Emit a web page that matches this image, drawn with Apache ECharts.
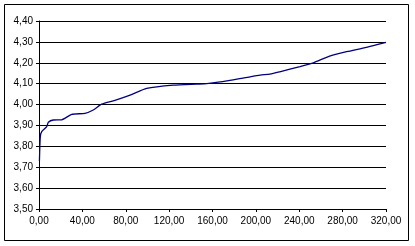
<!DOCTYPE html>
<html>
<head>
<meta charset="utf-8">
<script src="https://cdn.jsdelivr.net/npm/echarts@6/dist/echarts.min.js"></script>
<style>
    html, body { margin: 0; padding: 0; background: #fff; }
    #main { width: 415px; height: 246px; }
</style>
</head>
<body>
<div id="main"></div>
<script>
// x positions and values
var xData = [0.4, 1.2, 2.5, 7.1, 8.6, 13.2, 20.9, 30.2, 42.4, 50, 57.8, 70, 84,
    99.3, 123.8, 145.4, 154.6, 176, 194.6, 204, 213, 222, 240.7, 253, 268, 283.8, 302, 320];
var yData = [3.73, 3.846, 3.87, 3.894, 3.915, 3.926, 3.927, 3.953, 3.958, 3.974, 4.002, 4.02, 4.045,
    4.077, 4.093, 4.098, 4.10, 4.116, 4.133, 4.141, 4.146, 4.157, 4.182, 4.20, 4.232, 4.253, 4.274, 4.298];

function fmt(v) {
    return v.toFixed(2).replace('.', ',');
}

var points = [];
for (var i = 0; i < xData.length; i++) {
    points.push([xData[i], yData[i]]);
}

var myChart = echarts.init(document.getElementById('main'));
var option = {
    animation: false,
    backgroundColor: '#fff',
    grid: { left: 39, right: 29, top: 21, bottom: 37 },
    graphic: [{
        type: 'rect',
        shape: { x: 4.5, y: 4.5, width: 404, height: 236 },
        style: { fill: 'none', stroke: '#000', lineWidth: 1 },
        silent: true
    }],
    xAxis: {
        type: 'value',
        min: 0, max: 320, interval: 40,
        axisLine: { lineStyle: { color: '#000', width: 1 } },
        axisTick: { show: true, length: 3, lineStyle: { color: '#000' } },
        splitLine: { show: false },
        axisLabel: {
            color: '#000', fontFamily: 'Liberation Sans', fontSize: 10, margin: 7,
            formatter: fmt
        }
    },
    yAxis: {
        type: 'value',
        min: 3.5, max: 4.4, interval: 0.1,
        axisLine: { show: true, lineStyle: { color: '#000', width: 1 } },
        axisTick: { show: true, length: 3, lineStyle: { color: '#000' } },
        splitLine: { show: true, lineStyle: { color: '#000', width: 1 } },
        axisLabel: {
            color: '#000', fontFamily: 'Liberation Sans', fontSize: 10, margin: 6,
            formatter: fmt
        }
    },
    series: [{
        type: 'line',
        data: points,
        smooth: 0.2,
        symbol: 'none',
        lineStyle: { color: '#000080', width: 1.3 }
    }]
};
myChart.setOption(option);
</script>
</body>
</html>
